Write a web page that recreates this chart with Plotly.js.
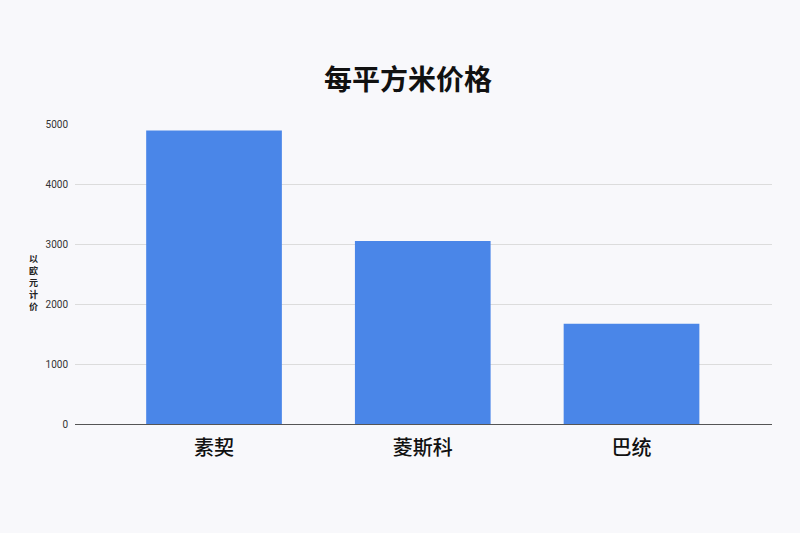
<!DOCTYPE html>
<html><head><meta charset="utf-8">
<script src="https://cdn.plot.ly/plotly-3.0.1.min.js"></script>
<style>html,body{margin:0;padding:0;background:#f8f8fb;}#c{width:800px;height:533px;}</style>
</head><body><div id="c"></div>
<script>
const categories = ["素契", "菱斯科", "巴统"];
const prices = [4890, 3050, 1670];
const yTicks = [0, 1000, 2000, 3000, 4000, 5000];
const titleText = "每平方米价格";
const yTitleChars = ["以", "欧", "元", "计", "价"];

const cjk = '"Noto Sans CJK SC", "Noto Sans", sans-serif';
const plotTop = 124, plotH = 300;
const annots = yTitleChars.map((ch, i) => ({
  text: '<b>' + ch + '</b>', xref: 'paper', yref: 'paper',
  x: -0.06, y: (plotTop + plotH - (258 + i * 12)) / plotH,
  xanchor: 'center', yanchor: 'middle', showarrow: false,
  font: {family: cjk, size: 9, color: '#222'}
}));
Plotly.newPlot('c', [{
  type: 'bar', x: categories, y: prices,
  marker: {color: '#4a86e8'}, hoverinfo: 'none'
}], {
  width: 800, height: 533,
  paper_bgcolor: '#f8f8fb', plot_bgcolor: '#f8f8fb',
  margin: {l: 75, r: 28, t: plotTop, b: 533 - plotTop - plotH},
  bargap: 0.35,
  title: {text: '<b>' + titleText + '</b>', font: {family: cjk, size: 28, color: '#111'},
          x: 408/800, xanchor: 'center', y: 1 - 80/533, yanchor: 'middle', yref: 'container'},
  xaxis: {type: 'category', range: [-0.666, 2.673], tickfont: {family: cjk, size: 20, color: '#111', weight: 500},
          showgrid: false, ticks: '', ticklabelstandoff: 10, showline: false, fixedrange: true},
  yaxis: {range: [0, 5000], tickvals: yTicks, ticktext: yTicks.map(String),
          tickfont: {family: 'Roboto, sans-serif', size: 10, color: '#333'},
          gridcolor: '#dcdcdc', gridwidth: 1, zeroline: true, zerolinecolor: '#555', zerolinewidth: 1,
          ticks: '', ticklabelstandoff: 6, fixedrange: true},
  annotations: annots,
  showlegend: false
}, {displayModeBar: false, staticPlot: true});
</script></body></html>
